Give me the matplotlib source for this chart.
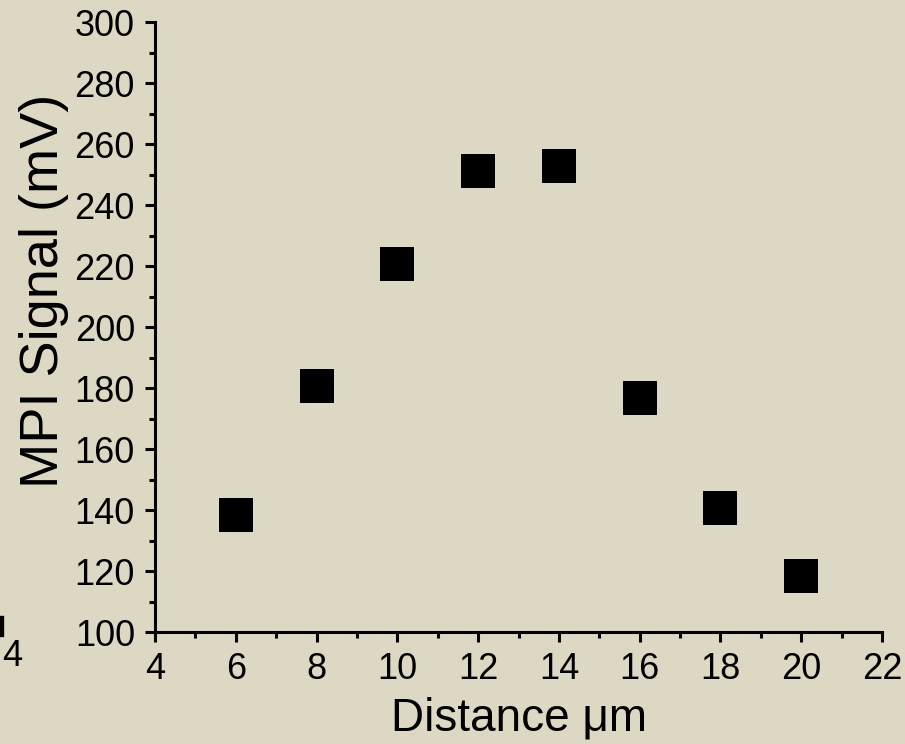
import numpy as np
import matplotlib.pyplot as plt
from matplotlib.ticker import MultipleLocator
from matplotlib.lines import Line2D

# data
distance = [6, 8, 10, 12, 14, 16, 18, 20]
signal = [138.5, 180.8, 220.7, 251.2, 252.9, 176.8, 140.6, 118.5]

x_ticks = [4, 6, 8, 10, 12, 14, 16, 18, 20, 22]
y_ticks = [100, 120, 140, 160, 180, 200, 220, 240, 260, 280, 300]

bg = "#ddd8c4"
plt.rcParams["font.family"] = ["Liberation Sans", "DejaVu Sans"]

fig = plt.figure(figsize=(9.05, 7.44), dpi=100, facecolor=bg)
ax = fig.add_axes([0.1713, 0.1505, 0.8033, 0.8199], facecolor=bg)

ax.plot(distance, signal, linestyle="none", marker="s", markersize=24,
        color="black", markeredgewidth=0, clip_on=False)

ax.set_xlim(4, 22)
ax.set_ylim(100, 300)
ax.set_xticks(x_ticks)
ax.set_yticks(y_ticks)
ax.xaxis.set_minor_locator(MultipleLocator(1))
ax.yaxis.set_minor_locator(MultipleLocator(10))

for side in ["top", "right"]:
    ax.spines[side].set_visible(False)
for side in ["left", "bottom"]:
    ax.spines[side].set_linewidth(2.2)

ax.tick_params(which="major", direction="out", length=7.5, width=2.2,
               labelsize=26, pad=7)
ax.tick_params(which="minor", direction="out", length=4, width=2.2)

ax.set_xlabel("Distance \u03bcm", fontsize=33, labelpad=7)
ax.set_ylabel("MPI Signal (mV)", fontsize=39)
ax.yaxis.set_label_coords(-0.118, 0.559)

# cropped leftover from a neighbouring panel at the left edge
fig.text(0.002, 0.117, "4", fontsize=26, ha="left", va="center")
fig.add_artist(Line2D([0.0, 0.0], [0.149, 0.167], transform=fig.transFigure,
                      color="black", linewidth=6))

fig.savefig("out.png", dpi=100, facecolor=bg)
